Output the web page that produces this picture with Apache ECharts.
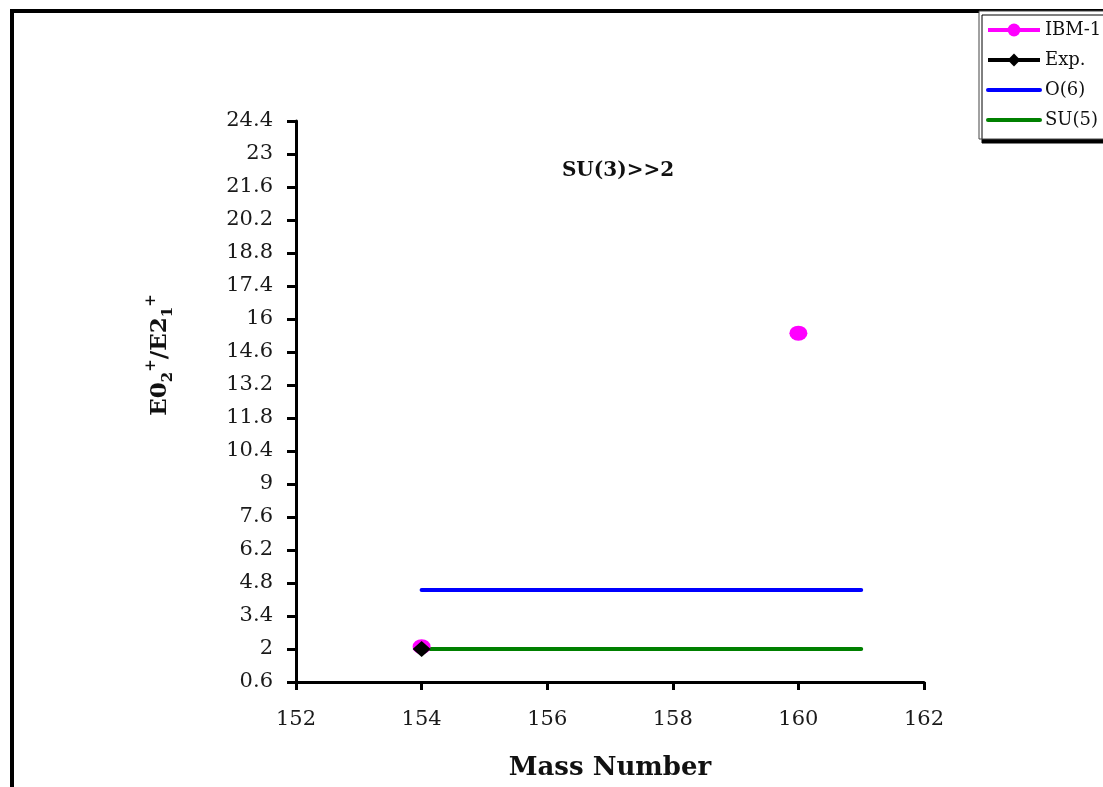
<!DOCTYPE html>
<html>
<head>
<meta charset="utf-8">
<script src="https://cdn.jsdelivr.net/npm/echarts@6/dist/echarts.min.js"></script>
<style>
html,body{margin:0;padding:0;background:#fff;}
#chart{width:1103px;height:787px;}
</style>
</head>
<body>
<div id="chart"></div>
<script>
// ---- data ----
var massNumbers = [154, 156, 158, 160, 161];
var ibm1 = [2.1, '-', '-', 15.4, '-'];
var expVals = [2.0, '-', '-', '-', '-'];
var o6 = [4.5, 4.5, 4.5, 4.5, 4.5];
var su5 = [2.0, 2.0, 2.0, 2.0, 2.0];
var seriesNames = ['IBM-1', 'Exp.', 'O(6)', 'SU(5)'];
var xTicks = [152, 154, 156, 158, 160, 162];
var yTicks = [0.6, 2, 3.4, 4.8, 6.2, 7.6, 9, 10.4, 11.8, 13.2, 14.6, 16, 17.4, 18.8, 20.2, 21.6, 23, 24.4];
var chartTitle = 'SU(3)>>2';
var xTitle = 'Mass Number';

function pairs(ys) {
  return massNumbers.map(function (x, i) { return [x, ys[i]]; });
}

var chart = echarts.init(document.getElementById('chart'), null, {renderer: 'canvas'});
var serif = 'DejaVu Serif';
var option = {
  animation: false,
  backgroundColor: '#ffffff',
  grid: {left: 296, top: 121, right: 179, bottom: 105, containLabel: false, outerBoundsMode: 'none'},
  graphic: [
    {
      type: 'rect', z: 0, silent: true,
      shape: {x: 12, y: 11, width: 1300, height: 1000},
      style: {fill: 'none', stroke: '#000', lineWidth: 4}
    },
    {
      type: 'text', z: 10, silent: true,
      x: 618, y: 171,
      style: {text: chartTitle, font: 'bold 20px "DejaVu Serif"', fill: '#111', align: 'center', verticalAlign: 'middle'}
    },
    {
      type: 'text', z: 10, silent: true,
      x: 160, y: 355, rotation: Math.PI / 2,
      style: {
        text: '{b|E0}{sub|2}{sup|+}{b|/E2}{sub|1}{sup|+}',
        align: 'center', verticalAlign: 'middle', fill: '#111',
        rich: {
          b: {font: 'bold 23px "DejaVu Serif"', fill: '#111', lineHeight: 32, verticalAlign: 'middle'},
          sub: {font: 'bold 15px "DejaVu Serif"', fill: '#111', lineHeight: 15, verticalAlign: 'bottom'},
          sup: {font: 'bold 15px "DejaVu Serif"', fill: '#111', lineHeight: 15, verticalAlign: 'top'}
        }
      }
    }
  ],
  legend: {
    orient: 'vertical', left: 979, top: 11,
    itemWidth: 52, itemHeight: 16, itemGap: 12,
    padding: [10, 30, 10, 7],
    backgroundColor: '#fff', borderColor: '#444', borderWidth: 1,
    shadowColor: '#000', shadowBlur: 0, shadowOffsetX: 3, shadowOffsetY: 4,
    textStyle: {fontFamily: serif, fontSize: 18, color: '#111'},
    lineStyle: {width: 4},
    data: [
      {name: seriesNames[0]},
      {name: seriesNames[1]},
      {name: seriesNames[2], itemStyle: {opacity: 0}},
      {name: seriesNames[3], itemStyle: {opacity: 0}}
    ]
  },
  xAxis: {
    type: 'value', min: xTicks[0], max: xTicks[xTicks.length - 1], interval: xTicks[1] - xTicks[0],
    name: xTitle, nameLocation: 'middle', nameGap: 73,
    nameTextStyle: {fontFamily: serif, fontWeight: 'bold', fontSize: 26, color: '#111'},
    axisLine: {show: true, onZero: false, lineStyle: {color: '#000', width: 3}},
    axisTick: {show: true, inside: false, length: 8, lineStyle: {color: '#000', width: 3}},
    axisLabel: {fontFamily: serif, fontSize: 21, color: '#1a1a1a', margin: 27},
    splitLine: {show: false}
  },
  yAxis: {
    type: 'value', min: yTicks[0], max: yTicks[yTicks.length - 1], interval: +(yTicks[1] - yTicks[0]).toFixed(1),
    axisLine: {show: true, onZero: false, lineStyle: {color: '#000', width: 3}},
    axisTick: {show: true, inside: false, length: 9, lineStyle: {color: '#000', width: 3}},
    axisLabel: {fontFamily: serif, fontSize: 21, color: '#1a1a1a', margin: 23,
      formatter: function (v) { return String(+(+v).toFixed(1)); }},
    splitLine: {show: false}
  },
  series: [
    {
      name: seriesNames[0], type: 'line', data: pairs(ibm1), connectNulls: false,
      symbol: 'circle', symbolSize: [18, 15], showSymbol: true,
      itemStyle: {color: '#FF00FF'}, lineStyle: {color: '#FF00FF', width: 3}, z: 3
    },
    {
      name: seriesNames[1], type: 'line', data: pairs(expVals), connectNulls: false,
      symbol: 'diamond', symbolSize: [18, 16], showSymbol: true,
      itemStyle: {color: '#000'}, lineStyle: {color: '#000', width: 3}, z: 5
    },
    {
      name: seriesNames[2], type: 'line', data: pairs(o6), symbol: 'none',
      itemStyle: {color: '#0000FF'}, lineStyle: {color: '#0000FF', width: 4, cap: 'round'}, z: 2
    },
    {
      name: seriesNames[3], type: 'line', data: pairs(su5), symbol: 'none',
      itemStyle: {color: '#008000'}, lineStyle: {color: '#008000', width: 4, cap: 'round'}, z: 2
    }
  ]
};
chart.setOption(option);
</script>
</body>
</html>
